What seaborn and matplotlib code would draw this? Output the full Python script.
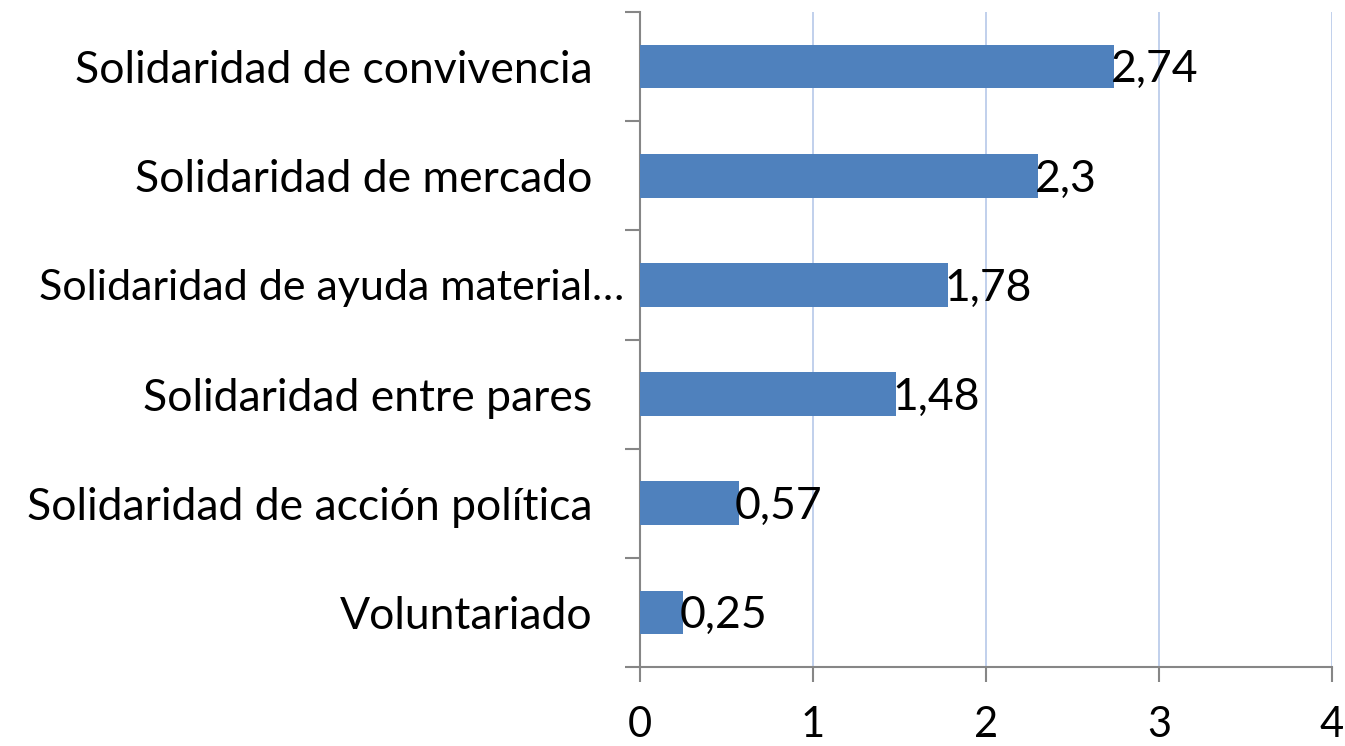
import pandas as pd
import numpy as np
import seaborn as sns
import matplotlib
matplotlib.use('Agg')
import matplotlib.pyplot as plt
import matplotlib.transforms as mtransforms
from matplotlib.ticker import FixedLocator

categorias = ['Solidaridad de convivencia', 'Solidaridad de mercado',
              'Solidaridad de ayuda material…', 'Solidaridad entre pares',
              'Solidaridad de acción política', 'Voluntariado']
valores = [2.74, 2.3, 1.78, 1.48, 0.57, 0.25]
etiquetas = ['2,74', '2,3', '1,78', '1,48', '0,57', '0,25']
x_ticks = [0, 1, 2, 3, 4]

df = pd.DataFrame({'Categoria': categorias, 'Valor': valores})

sns.set_style('white')
plt.rcParams['font.family'] = ['Lato', 'DejaVu Sans']
plt.rcParams['text.color'] = 'black'

fig = plt.figure(figsize=(13.45, 7.46), dpi=100)
ax = fig.add_axes([0.4758, 0.1059, 0.5145, 0.878])

sns.barplot(data=df, x='Valor', y='Categoria', color='#4F81BD', saturation=1,
            width=0.4, linewidth=0, ax=ax, zorder=3)

# data labels
for i, (v, t) in enumerate(zip(valores, etiquetas)):
    ax.text(v - 0.02, i + 0.03, t, va='center', ha='left', fontsize=32,
            color='black', zorder=4)

ax.set_xlim(0, 4)
ax.set_ylim(len(categorias) - 0.5, -0.5)
ax.set_xticks(x_ticks)
ax.set_xticklabels([str(t) for t in x_ticks])
ax.set_xlabel('')
ax.set_ylabel('')

# vertical grid lines
for t in x_ticks[1:]:
    ax.axvline(t, color='#BCCDEB', lw=1.3, zorder=1)

for s in ['top', 'right']:
    ax.spines[s].set_visible(False)
for s in ['left', 'bottom']:
    ax.spines[s].set_color('#868686')
    ax.spines[s].set_linewidth(1.5)

ax.tick_params(axis='x', length=11, width=1.5, color='#868686', pad=17,
               labelsize=30, labelcolor='black', direction='out', bottom=True)
ax.tick_params(axis='y', which='major', length=0, pad=34, labelsize=32,
               labelcolor='black')
ax.yaxis.set_minor_locator(FixedLocator(np.arange(-0.5, len(categorias), 1)))
ax.tick_params(axis='y', which='minor', length=11, width=1.5, color='#868686',
               direction='out', left=True)

# the truncated label sits closer to the axis, as in the original
lab = ax.get_yticklabels()[2]
lab.set_fontsize(31)
lab.set_transform(lab.get_transform() +
                  mtransforms.ScaledTranslation(32 / 100, 0, fig.dpi_scale_trans))

plt.savefig('out.png', dpi=100)
